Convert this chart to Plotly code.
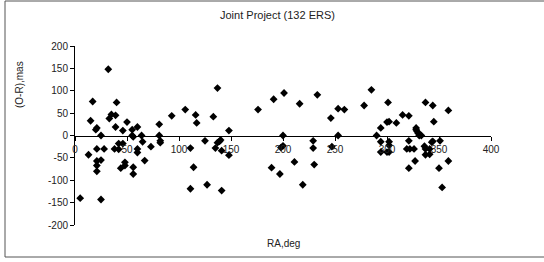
import plotly.graph_objects as go

ra_deg = [5, 13, 15, 17, 20, 21, 21, 21, 21, 21, 25, 25, 25, 28, 32, 33, 35, 38, 39, 39,
          40, 42, 42, 44, 46, 46, 48, 48, 50, 55, 55, 56, 56, 56, 60, 60, 60, 64, 65, 67,
          73, 81, 81, 82, 82, 93,
          106, 111, 111, 114, 116, 117, 125, 127, 133, 135, 137, 137, 139, 140, 141, 141,
          148, 148, 176, 189, 191, 197, 198, 200, 200, 201, 211, 216, 219, 229, 229, 230,
          233, 246, 247, 253, 253, 259, 278, 285,
          290, 294, 294, 294, 301, 300, 302, 300, 302, 302, 302, 309, 315, 321, 319, 321,
          322, 321, 326, 327, 328, 328, 329, 330, 331, 333, 336, 337, 337, 337, 341, 341,
          343, 344, 344, 345, 351, 350, 353, 359, 359]
o_minus_r = [-140, -43, 33, 76, 13, 17, -30, -57, -67, -80, 0, -55, -143, -30, 148, 38, 47, -30, 45, 19,
             74, -18, -31, -73, 11, -18, -60, -67, 30, 13, 0, -3, -71, -86, 19, -30, -38, 0, -14, -56,
             -25, 25, 0, -12, -16, 44,
             58, -28, -119, -71, 46, 28, -12, -110, 42, -28, 106, -16, -13, -10, -34, -123,
             11, -44, 58, -72, 81, -86, -27, -23, 0, 95, -59, 71, -110, -12, -28, -65,
             91, 39, -25, 0, 60, 58, 67, 102,
             0, 17, -14, -37, 74, 30, 31, -37, -37, -14, -22, 28, 46, 44, -30, -12,
             -30, -73, -30, -57, 17, 13, 9, 5, 0, 0, -24, 74, -30, -43, -30, -42,
             -15, -13, 67, 31, -12, -73, -116, 56, -57]

x_ticks = [0, 50, 100, 150, 200, 250, 300, 350, 400]
y_ticks = [-200, -150, -100, -50, 0, 50, 100, 150, 200]

FONT = "Liberation Sans, Arial, sans-serif"
L, R, T, B = 75, 53, 46, 37
W, H = 544, 262
pw, ph = W - L - R, H - T - B

def px(xp):
    return (xp - L) / pw

def py(yp):
    return (H - B - yp) / ph

fig = go.Figure()
fig.add_trace(go.Scatter(
    x=ra_deg, y=o_minus_r, mode="markers",
    marker=dict(symbol="diamond", size=6, color="black"),
    showlegend=False, cliponaxis=False,
))

fig.update_layout(
    width=W, height=H,
    margin=dict(l=L, r=R, t=T, b=B, autoexpand=False),
    paper_bgcolor="white", plot_bgcolor="white",
    font=dict(family=FONT, size=10, color="black"),
    xaxis=dict(
        range=[0, 400], tickvals=x_ticks, ticktext=[str(v) for v in x_ticks],
        anchor="free", position=0.5, showline=True, linecolor="black", linewidth=1,
        ticks="outside", ticklen=4, tickcolor="black", showgrid=False, zeroline=False,
        tickfont=dict(family=FONT, size=10, color="#222"),
    ),
    yaxis=dict(
        range=[-200, 200], tickvals=y_ticks, ticktext=[str(v) for v in y_ticks],
        showline=True, linecolor="black", linewidth=1,
        ticks="outside", ticklen=4, tickcolor="black", showgrid=False, zeroline=False,
        tickfont=dict(family=FONT, size=10, color="#222"),
    ),
    shapes=[dict(type="rect", xref="paper", yref="paper",
                 x0=px(5), x1=px(548), y0=py(257), y1=py(1),
                 line=dict(color="#555", width=1), fillcolor="rgba(0,0,0,0)")],
    annotations=[
        dict(text="Joint Project (132 ERS)", xref="paper", yref="paper",
             x=px(277), y=py(15), showarrow=False, xanchor="center", yanchor="middle",
             font=dict(family=FONT, size=11, color="#222")),
        dict(text="RA,deg", xref="paper", yref="paper",
             x=px(283), y=py(243), showarrow=False, xanchor="center", yanchor="middle",
             font=dict(family=FONT, size=10, color="#222")),
        dict(text="(O-R),mas", xref="paper", yref="paper", textangle=-90,
             x=px(19), y=py(85), showarrow=False, xanchor="center", yanchor="middle",
             font=dict(family=FONT, size=10, color="#222")),
    ],
)

fig.write_html(
    "out.html",
    config={"displayModeBar": False},
    post_script="document.body.style.margin='0';document.body.style.overflow='hidden';",
)
